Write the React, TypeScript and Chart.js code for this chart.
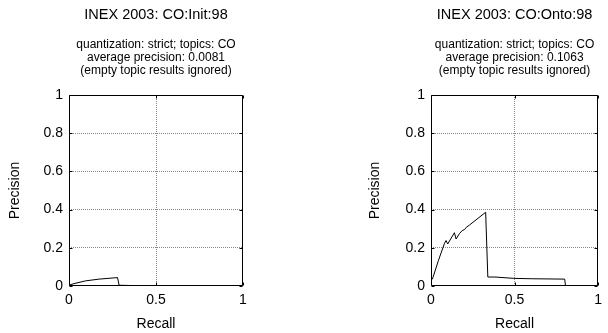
import React, { useEffect, useRef } from "react";
import { Chart, registerables } from "chart.js";

Chart.register(...registerables);

// ---- data ----
const leftTitle = "INEX 2003: CO:Init:98";
const rightTitle = "INEX 2003: CO:Onto:98";
const leftSubtitle = [
  "quantization: strict; topics: CO",
  "average precision: 0.0081",
  "(empty topic results ignored)",
];
const rightSubtitle = [
  "quantization: strict; topics: CO",
  "average precision: 0.1063",
  "(empty topic results ignored)",
];

const initRecall = [0, 0.04, 0.096, 0.173, 0.279, 0.288, 0.38, 0.39, 1];
const initPrecision = [0.005, 0.015, 0.027, 0.036, 0.044, 0.004, 0.002, 0, 0];

const ontoRecall = [
  0.008, 0.045, 0.081, 0.09, 0.1, 0.14, 0.15, 0.17, 0.186, 0.2, 0.211, 0.23,
  0.327, 0.34, 0.383, 0.496, 0.6, 0.8, 0.805, 1,
];
const ontoPrecision = [
  0.035, 0.135, 0.224, 0.238, 0.22, 0.279, 0.246, 0.274, 0.29, 0.295, 0.307,
  0.319, 0.386, 0.047, 0.047, 0.04, 0.038, 0.036, 0, 0,
];

const xTicks = [0, 0.5, 1];
const xTickLabels = ["0", "0.5", "1"];
const yTicks = [0, 0.2, 0.4, 0.6, 0.8, 1];
const yTickLabels = ["0", "0.2", "0.4", "0.6", "0.8", "1"];
const xAxisTitle = "Recall";
const yAxisTitle = "Precision";

const FONT = "'Liberation Sans', Arial, Helvetica, sans-serif";

const framePlugin = {
  id: "gnuplotFrame",
  afterDraw(chart: any) {
    const { ctx, chartArea } = chart;
    const { left, right, top, bottom } = chartArea;
    const xs = chart.scales.x;
    const ys = chart.scales.y;
    ctx.save();
    ctx.strokeStyle = "#000";
    ctx.lineWidth = 1;
    ctx.setLineDash([]);
    const L = Math.round(left) + 0.5;
    const R = Math.round(right) - 0.5;
    const T = Math.round(top) + 0.5;
    const B = Math.round(bottom) - 0.5;
    ctx.beginPath();
    ctx.rect(L, T, R - L, B - T);
    const tl = 3;
    xTicks.forEach((v) => {
      const px = Math.round(xs.getPixelForValue(v)) + 0.5;
      ctx.moveTo(px, B);
      ctx.lineTo(px, B - tl);
      ctx.moveTo(px, T);
      ctx.lineTo(px, T + tl);
    });
    yTicks.forEach((v) => {
      const py = Math.round(ys.getPixelForValue(v)) + 0.5;
      ctx.moveTo(L, py);
      ctx.lineTo(L + tl, py);
      ctx.moveTo(R, py);
      ctx.lineTo(R - tl, py);
    });
    ctx.stroke();
    ctx.restore();
  },
};

type Props = {
  title: string;
  subtitle: string[];
  recall: number[];
  precision: number[];
  yWidth: number;
  yTitlePad: number;
  padRight: number;
};

function PRChart({ title, subtitle, recall, precision, yWidth, yTitlePad, padRight }: Props) {
  const ref = useRef<HTMLCanvasElement | null>(null);
  useEffect(() => {
    if (!ref.current) return;
    const gridColor = (c: any) =>
      c.tick && (c.tick.value === 0 || c.tick.value === 1) ? "rgba(0,0,0,0)" : "#888";
    const chart = new Chart(ref.current, {
      type: "line",
      data: {
        datasets: [
          {
            data: recall.map((r, i) => ({ x: r, y: precision[i] })),
            borderColor: "#000",
            borderWidth: 1,
            pointRadius: 0,
            tension: 0,
            fill: false,
          },
        ],
      },
      options: {
        responsive: false,
        animation: false,
        devicePixelRatio: 1,
        layout: { padding: { left: 0, right: padRight, top: 0, bottom: 0 } },
        plugins: {
          legend: { display: false },
          tooltip: { enabled: false },
          title: {
            display: true,
            text: title,
            fullSize: false,
            color: "#000",
            font: { family: FONT, size: 14.5, weight: "normal", lineHeight: 1.2 },
            padding: { top: 6.5, bottom: 0 },
          },
          subtitle: {
            display: true,
            text: subtitle,
            fullSize: false,
            color: "#000",
            font: { family: FONT, size: 12, weight: "normal", lineHeight: 13 / 12 },
            padding: { top: 14.4, bottom: 17.7 },
          },
        },
        scales: {
          x: {
            type: "linear",
            position: "bottom",
            min: 0,
            max: 1,
            afterBuildTicks: (s: any) => {
              s.ticks = xTicks.map((v) => ({ value: v }));
            },
            afterFit: (s: any) => {
              s.height = 47;
            },
            ticks: {
              color: "#000",
              font: { family: FONT, size: 14 },
              padding: 6,
              maxRotation: 0,
              autoSkip: false,
              callback: (_v: any, i: number) => xTickLabels[i],
            },
            grid: {
              color: gridColor,
              drawTicks: false,
              lineWidth: 1,
            },
            border: { display: false, dash: [1, 1] },
            title: {
              display: true,
              text: xAxisTitle,
              color: "#000",
              font: { family: FONT, size: 14, lineHeight: 1.2 },
              padding: { top: 0, bottom: 0 },
            },
          },
          y: {
            type: "linear",
            position: "left",
            min: 0,
            max: 1,
            afterBuildTicks: (s: any) => {
              s.ticks = yTicks.map((v) => ({ value: v }));
            },
            afterFit: (s: any) => {
              s.width = yWidth;
            },
            ticks: {
              color: "#000",
              font: { family: FONT, size: 14 },
              padding: 6,
              autoSkip: false,
              callback: (_v: any, i: number) => yTickLabels[i],
            },
            grid: {
              color: gridColor,
              drawTicks: false,
              lineWidth: 1,
            },
            border: { display: false, dash: [1, 1] },
            title: {
              display: true,
              text: yAxisTitle,
              color: "#000",
              font: { family: FONT, size: 14, lineHeight: 1.2 },
              padding: { top: yTitlePad, bottom: 0 },
            },
          },
        },
      } as any,
      plugins: [framePlugin],
    });
    // dotted grid
    (chart.options.scales as any).x.grid.borderDash = [1, 1];
    chart.update();
    return () => chart.destroy();
  }, []);
  return <canvas ref={ref} width={304} height={333} style={{ display: "block", width: 304, height: 333 }} />;
}

export default function App() {
  return (
    <div
      style={{
        position: "fixed",
        left: 0,
        top: 0,
        width: 608,
        height: 333,
        display: "flex",
        background: "#fff",
      }}
    >
      <PRChart
        title={leftTitle}
        subtitle={leftSubtitle}
        recall={initRecall}
        precision={initPrecision}
        yWidth={69}
        yTitlePad={6.6}
        padRight={61}
      />
      <PRChart
        title={rightTitle}
        subtitle={rightSubtitle}
        recall={ontoRecall}
        precision={ontoPrecision}
        yWidth={127}
        yTitlePad={63}
        padRight={4}
      />
    </div>
  );
}
